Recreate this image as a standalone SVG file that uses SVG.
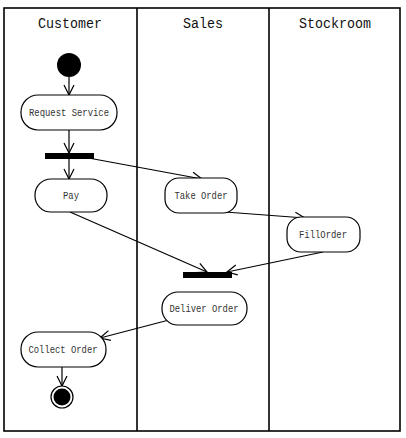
<svg xmlns="http://www.w3.org/2000/svg" width="406" height="438" viewBox="0 0 406 438">
<style>
.lane{fill:none;stroke:#000;stroke-width:1.6}
.head{font-family:"Liberation Mono",monospace;font-size:14px;fill:#111;text-anchor:middle}
.act{fill:#fff;stroke:#000;stroke-width:1.2}
.lbl{font-family:"Liberation Mono",monospace;font-size:10px;fill:#333;text-anchor:middle}
.bar{fill:#000}
.edge{fill:none;stroke:#000;stroke-width:1.2;marker-end:url(#arr)}
</style>
<defs>
<marker id="arr" markerWidth="12" markerHeight="12" refX="11" refY="6" orient="auto" markerUnits="userSpaceOnUse">
<path d="M1,1 L11,6 L1,11" fill="none" stroke="#000" stroke-width="1.2"/>
</marker>
</defs>
<rect width="406" height="438" fill="#fff"/>
<g id="lanes">
<rect class="lane" x="4" y="8" width="396" height="423"/>
<line class="lane" x1="137" y1="8" x2="137" y2="431"/>
<line class="lane" x1="269" y1="8" x2="269" y2="431"/>
<text class="head" x="70" y="28" textLength="64" lengthAdjust="spacingAndGlyphs">Customer</text>
<text class="head" x="203" y="28" textLength="40" lengthAdjust="spacingAndGlyphs">Sales</text>
<text class="head" x="335" y="28" textLength="72" lengthAdjust="spacingAndGlyphs">Stockroom</text>
</g>
<g id="connectors">
<line class="edge" x1="69" y1="77" x2="69" y2="95"/>
<line class="edge" x1="69" y1="130" x2="69" y2="153"/>
<line class="edge" x1="69" y1="159" x2="69" y2="179"/>
<line class="edge" x1="83" y1="157" x2="202" y2="179"/>
<line class="edge" x1="225" y1="212" x2="305" y2="218"/>
<line class="edge" x1="70" y1="212" x2="207" y2="272"/>
<line class="edge" x1="323" y1="252" x2="227" y2="272"/>
<line class="edge" x1="169" y1="320" x2="100" y2="338"/>
<line class="edge" x1="62" y1="367" x2="62" y2="386"/>
</g>
<g id="start"><circle cx="69" cy="65" r="12" fill="#000"/></g>
<g id="request-service">
<rect class="act" x="21" y="95" width="96" height="35" rx="17" ry="17"/>
<text class="lbl" x="69" y="116" textLength="80" lengthAdjust="spacingAndGlyphs">Request Service</text>
</g>
<g id="fork"><rect class="bar" x="45" y="153" width="49" height="6"/></g>
<g id="pay">
<rect class="act" x="35" y="179" width="72" height="33" rx="16" ry="16"/>
<text class="lbl" x="71" y="199" textLength="16" lengthAdjust="spacingAndGlyphs">Pay</text>
</g>
<g id="take-order">
<rect class="act" x="165" y="178" width="72" height="35" rx="14" ry="14"/>
<text class="lbl" x="201" y="199" textLength="53" lengthAdjust="spacingAndGlyphs">Take Order</text>
</g>
<g id="fill-order">
<rect class="act" x="287" y="217" width="73" height="35" rx="14" ry="14"/>
<text class="lbl" x="323" y="238" textLength="48" lengthAdjust="spacingAndGlyphs">FillOrder</text>
</g>
<g id="join"><rect class="bar" x="183" y="272" width="49" height="6"/></g>
<g id="deliver-order">
<rect class="act" x="162" y="292" width="85" height="33" rx="16" ry="16"/>
<text class="lbl" x="204" y="312" textLength="69" lengthAdjust="spacingAndGlyphs">Deliver Order</text>
</g>
<g id="collect-order">
<rect class="act" x="21" y="332" width="85" height="35" rx="17" ry="17"/>
<text class="lbl" x="63" y="353" textLength="69" lengthAdjust="spacingAndGlyphs">Collect Order</text>
</g>
<g id="end">
<circle cx="62" cy="397" r="11" fill="#fff" stroke="#000" stroke-width="1.2"/>
<circle cx="62" cy="397" r="8.5" fill="#000"/>
</g>
</svg>
